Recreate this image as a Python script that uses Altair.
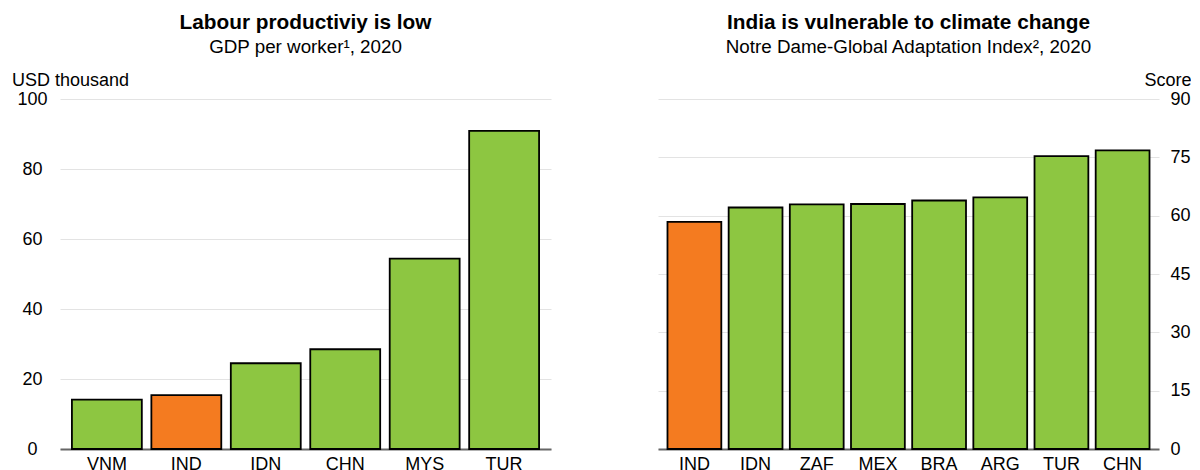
import altair as alt
import pandas as pd

# ---- data ----
left_countries = ["VNM", "IND", "IDN", "CHN", "MYS", "TUR"]
left_values = [14.1, 15.4, 24.5, 28.5, 54.4, 90.9]

right_countries = ["IND", "IDN", "ZAF", "MEX", "BRA", "ARG", "TUR", "CHN"]
right_values = [58.4, 62.1, 62.9, 63.0, 63.9, 64.7, 75.3, 76.8]

highlight = "IND"
GREEN = "#8DC641"
ORANGE = "#F47B20"
FONT = "Liberation Sans"

left_df = pd.DataFrame({"country": left_countries, "value": left_values})
right_df = pd.DataFrame({"country": right_countries, "value": right_values})

color_enc = alt.condition(
    alt.datum.country == highlight, alt.value(ORANGE), alt.value(GREEN)
)

x_axis = alt.Axis(
    title=None, labelAngle=0, ticks=False, tickSize=0, labelPadding=6,
    domain=True, domainColor="#666666", domainWidth=2, grid=False,
    labelFontSize=18, labelColor="#000000", labelFont=FONT,
)

title_common = dict(
    fontSize=20.8, fontWeight="bold", font=FONT, color="#000000",
    subtitleFontSize=18.8, subtitleFont=FONT, subtitleColor="#000000",
    subtitlePadding=4, anchor="middle", frame="group", offset=13,
)

left = (
    alt.Chart(left_df)
    .mark_bar(stroke="#000000", strokeWidth=1.8)
    .encode(
        x=alt.X("country:N", sort=left_countries,
                scale=alt.Scale(paddingInner=0.12, paddingOuter=0.15),
                axis=x_axis),
        y=alt.Y("value:Q",
                scale=alt.Scale(domain=[0, 100], nice=False),
                axis=alt.Axis(
                    title="USD thousand", titleAngle=0, titleAlign="left",
                    titleBaseline="alphabetic", titleX=-48.5, titleY=-14,
                    titleFontSize=18, titleFontWeight="normal", titleFont=FONT,
                    titleColor="#000000",
                    values=[0, 20, 40, 60, 80, 100], orient="left",
                    ticks=False, tickSize=0, domain=False, labelAlign="center",
                    labelPadding=28, labelFontSize=18, labelFont=FONT,
                    labelColor="#000000", grid=True, gridColor="#e3e3e3",
                    gridWidth=1.2,
                )),
        color=color_enc,
    )
    .properties(
        width=491, height=350,
        title=alt.TitleParams(
            text="Labour productiviy is low",
            subtitle="GDP per worker¹, 2020",
            **title_common,
        ),
    )
)

right = (
    alt.Chart(right_df)
    .mark_bar(stroke="#000000", strokeWidth=1.8)
    .encode(
        x=alt.X("country:N", sort=right_countries,
                scale=alt.Scale(paddingInner=0.12, paddingOuter=0.155),
                axis=x_axis),
        y=alt.Y("value:Q",
                scale=alt.Scale(domain=[0, 90], nice=False),
                axis=alt.Axis(
                    title="Score", titleAngle=0, titleAlign="right",
                    titleBaseline="alphabetic", titleX=32, titleY=-14,
                    titleFontSize=18, titleFontWeight="normal", titleFont=FONT,
                    titleColor="#000000",
                    values=[0, 15, 30, 45, 60, 75, 90], orient="right",
                    ticks=False, tickSize=0, domain=False, labelAlign="left",
                    labelPadding=11, labelFontSize=18, labelFont=FONT,
                    labelColor="#000000", grid=True, gridColor="#e3e3e3",
                    gridWidth=1.2,
                )),
        color=color_enc,
    )
    .properties(
        width=501, height=350,
        title=alt.TitleParams(
            text="India is vulnerable to climate change",
            subtitle="Notre Dame-Global Adaptation Index², 2020",
            **title_common,
        ),
    )
)

chart = (
    alt.hconcat(left, right, spacing=107)
    .properties(padding={"left": 3, "top": 4, "right": 0, "bottom": 0})
    .configure(background="#ffffff")
    .configure_view(stroke="transparent", strokeWidth=0)
    .configure_axisX(grid=False)
)

chart.save("out.html", embed_options={"renderer": "svg", "actions": False})
